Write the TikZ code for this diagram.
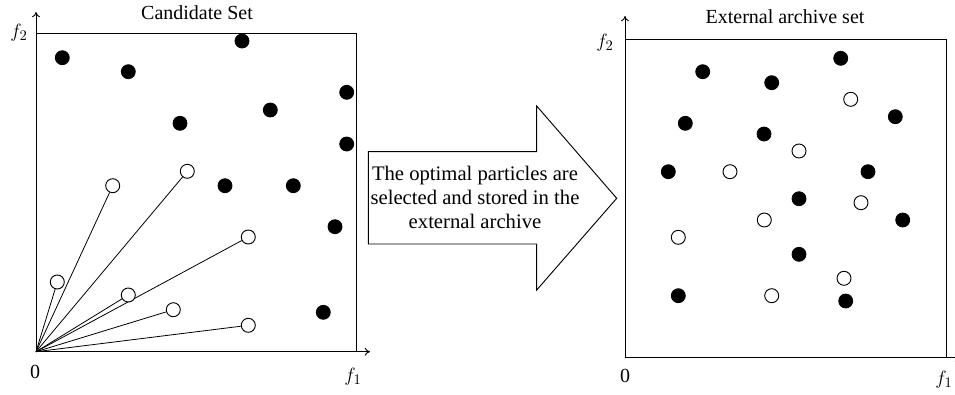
\documentclass[tikz,border=0pt]{standalone}
\usepackage{fontspec}
\setmainfont{Liberation Serif}
\usetikzlibrary{arrows.meta}
\begin{document}
\begin{tikzpicture}[x=0.75pt,y=-0.75pt,
  full/.style={circle,fill=black,draw=black,line width=0.6pt,minimum size=10.5pt,inner sep=0pt},
  hollow/.style={circle,fill=white,draw=black,line width=0.7pt,minimum size=10.5pt,inner sep=0pt},
  axis/.style={line width=0.7pt,-{To[length=4pt,width=6pt]}},
  frame/.style={line width=0.7pt},
  ray/.style={line width=0.6pt},
  lbl/.style={font=\fontsize{15}{17}\selectfont,inner sep=0pt},
  big/.style={font=\fontsize{15.5}{18}\selectfont,align=center,inner sep=0pt}]
\useasboundingbox (0,0) rectangle (955,394);
% ---------- left panel ----------
\coordinate (O1) at (36,351.7);
\coordinate (Y1) at (36,12);
\coordinate (X1) at (370,351.7);
\draw[frame] (36,33.7) rectangle (356.7,351.7);
\draw[axis] (O1) -- (Y1);
\draw[axis] (O1) -- (X1);
\node[lbl] (t1) at (197,13) {Candidate Set};
\node[lbl] (fy1) at (19,33) {$f_2$};
\node[lbl] (z1) at (35,372) {0};
\node[lbl] (fx1) at (353,377) {$f_1$};
\foreach \x/\y [count=\i] in {62.3/57.7,128.3/71.7,242/41,346.7/92.3,270.3/110,180/123.3,346.7/144,225/185.7,293.3/185.7,335/226.7,323.3/312.3}
  \node[full] (a\i) at (\x,\y) {};
\foreach \x/\y [count=\i] in {112.7/185.7,187.3/171.3,248.3/237,57.3/282,128.3/295,173.3/309.7,248.3/325.3}
  {\node[hollow] (b\i) at (\x,\y) {};
   \draw[ray] (O1) -- (b\i);}
% ---------- arrow ----------
\draw[line width=0.7pt,fill=white] (368.3,151.7) -- (536.7,151.7) -- (536.7,106) -- (616.7,198.3) -- (536.7,290) -- (536.7,244) -- (368.3,244) -- cycle;
\node[big] (msg) at (475,197) {The optimal particles are\\selected and stored in the\\external archive};
% ---------- right panel ----------
\coordinate (O2) at (625,357.7);
\coordinate (Y2) at (625,16);
\coordinate (X2) at (960,357.7);
\draw[frame] (625,39.3) rectangle (946,357.7);
\draw[axis] (O2) -- (Y2);
\draw[axis] (O2) -- (X2);
\node[lbl] (t2) at (785,17) {External archive set};
\node[lbl] (fy2) at (605,43) {$f_2$};
\node[lbl] (z2) at (625,376) {0};
\node[lbl] (fx2) at (944,380) {$f_1$};
\foreach \x/\y [count=\i] in {702.7/71.7,771.7/82.7,840.7/58.3,895.3/116.7,685.3/123.3,764/134,668.3/171.7,868/171.7,799/198.7,902.7/220,799/254.3,678.3/295.7,845.7/301}
  \node[full] (c\i) at (\x,\y) {};
\foreach \x/\y [count=\i] in {850.7/99.3,799/151,730/171.7,861/202.7,764.3/220,678.3/237.3,844/278.3,771.7/295.7}
  \node[hollow] (d\i) at (\x,\y) {};
\end{tikzpicture}
\end{document}
